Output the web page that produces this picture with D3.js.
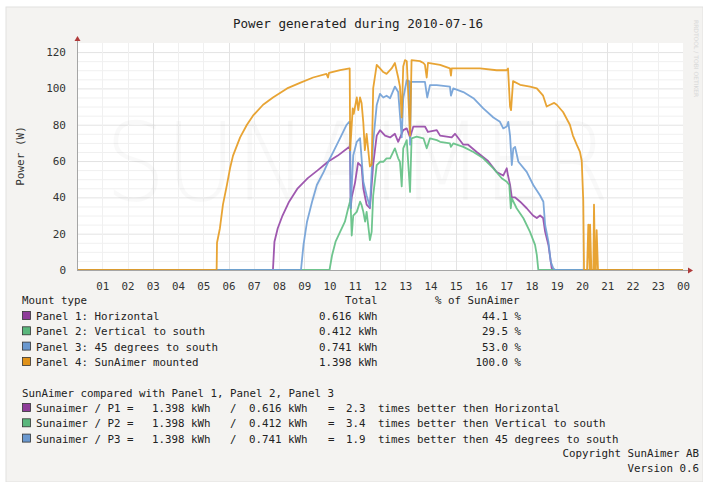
<!DOCTYPE html>
<html>
<head>
<meta charset="utf-8">
<script src="https://cdn.jsdelivr.net/npm/d3@7"></script>
<style>
  html, body { margin: 0; padding: 0; background: #ffffff; }
  svg { display: block; }
</style>
</head>
<body>
<div id="chart"></div>
<script>
"use strict";

const title = "Power generated during 2010-07-16";
const hourLabels = ["01","02","03","04","05","06","07","08","09","10","11","12",
                    "13","14","15","16","17","18","19","20","21","22","23","00"];
const yTicks = [0, 20, 40, 60, 80, 100, 120];

const panelNames = ["Panel 1: Horizontal", "Panel 2: Vertical to south",
                    "Panel 3: 45 degrees to south", "Panel 4: SunAimer mounted"];
const panelShort = ["Horizontal", "Vertical to south", "45 degrees to south"];
const panelTotals = ["0.616 kWh", "0.412 kWh", "0.741 kWh", "1.398 kWh"];
const panelPercent = ["44.1 %", "29.5 %", "53.0 %", "100.0 %"];
const ratios = ["2.3", "3.4", "1.9"];
const lineColors = ["#9546a6", "#5fbf82", "#6f9fd6", "#e69a1e"];
const boxColors = ["#8e3c99", "#5ab77c", "#6a98cf", "#e0921a"];

// [hour, watts]
const panel1 = [[0,0],[7.76,0],[7.82,15.6],[7.95,23],[8.14,30],[8.4,37.6],[8.74,45],[9.14,50.6],[9.54,55],[9.94,59.6],[10.33,63],[10.8,68],[10.81,70],[10.84,34],[10.88,40],[11.01,48],[11.13,59],[11.27,57],[11.34,45],[11.47,36],[11.6,34],[11.73,58],[11.87,74],[12.0,77],[12.2,74],[12.4,73],[12.59,75],[12.72,70.6],[12.92,77],[13.06,78],[13.19,73],[13.32,79],[13.58,79],[13.78,79],[13.9,76],[14.25,77],[14.38,74],[14.84,73],[14.97,75],[15.3,69],[15.49,69],[15.83,65],[16.28,60],[16.62,54],[16.88,52],[17.02,56],[17.07,52],[17.15,47],[17.22,40],[17.35,40],[17.55,37.6],[17.81,34],[18.06,30],[18.21,28.6],[18.34,30],[18.46,28.6],[18.54,21],[18.67,13.8],[18.8,1],[18.85,0],[24,0]];

const panel2 = [[0,0],[10.0,0],[10.1,8],[10.24,15.6],[10.42,21],[10.61,26.6],[10.74,34],[10.81,37.6],[10.83,39.4],[10.88,19],[10.94,30],[11.08,32],[11.21,37.6],[11.27,35.8],[11.34,32],[11.41,26.6],[11.47,32],[11.6,16.5],[11.67,21],[11.73,41],[11.87,57.8],[12.0,59.6],[12.13,59.6],[12.26,61.5],[12.4,61.5],[12.59,67],[12.72,61.5],[12.79,59.6],[12.86,46],[12.92,67],[13.06,71.5],[13.19,43],[13.25,72.5],[13.45,73.4],[13.72,72.5],[13.85,67],[13.98,72.5],[14.25,71.5],[14.38,70.6],[14.77,69.7],[14.81,67.8],[14.9,69.7],[15.3,67.8],[15.7,65],[16.09,61.5],[16.49,56],[16.82,50.5],[17.02,48.6],[17.12,46.8],[17.18,34],[17.22,39.5],[17.41,34],[17.68,28.5],[17.94,21],[18.14,13.8],[18.21,8.3],[18.27,0],[24,0]];

const panel3 = [[0,0],[8.87,0],[8.97,13.8],[9.11,26.6],[9.31,37.6],[9.5,46.8],[9.77,54],[9.95,59.6],[10.15,65],[10.42,72.6],[10.68,80],[10.78,81.6],[10.81,81.6],[10.84,34],[10.94,63],[11.08,70.6],[11.21,72.6],[11.27,61.6],[11.34,48.6],[11.47,41],[11.6,34.8],[11.73,70.6],[11.87,90.8],[12.0,97],[12.13,95],[12.26,96],[12.4,94.6],[12.59,101],[12.72,98],[12.86,73],[12.92,94.6],[13.06,104.6],[13.15,104],[13.19,69],[13.23,103.6],[13.58,103.6],[13.78,103.6],[13.87,95],[13.98,101.8],[14.25,101.8],[14.77,101],[14.81,96],[14.9,100],[15.3,98],[15.7,94.6],[16.09,89],[16.49,84],[16.75,81.6],[16.88,78],[17.02,79],[17.08,81.6],[17.15,74],[17.22,57.8],[17.28,67],[17.35,67.8],[17.48,59.6],[17.81,54],[18.07,46.8],[18.34,41],[18.47,37.6],[18.54,24.8],[18.67,15.6],[18.76,4.6],[18.86,1],[18.93,0],[24,0]];

const panel4 = [[0,0],[5.53,0],[5.545,15],[5.66,23],[5.78,36],[5.94,47],[6.06,56],[6.18,63],[6.46,73],[6.73,80],[6.97,85],[7.37,91],[7.76,95],[8.32,100],[8.83,103],[9.35,106],[9.88,108],[9.94,106],[9.98,108.5],[10.42,110],[10.8,111],[10.82,66],[10.92,89],[10.96,86],[11.08,95],[11.14,88],[11.21,95],[11.27,92],[11.34,81],[11.4,66],[11.47,75],[11.6,57],[11.67,58],[11.73,100],[11.87,113],[12.0,111],[12.13,109],[12.26,108],[12.46,111],[12.59,114],[12.72,106],[12.79,101],[12.86,84],[12.92,112],[12.99,115.6],[13.06,115],[13.19,74],[13.25,115.6],[13.58,115],[13.72,114],[13.78,113],[13.85,106],[13.9,114],[14.38,113],[14.77,111],[14.81,107],[14.84,111],[15.3,111],[15.96,111],[16.62,110],[17.02,110],[17.07,111],[17.15,90],[17.19,88],[17.27,104],[17.55,102],[17.94,101],[18.21,100],[18.46,96],[18.6,90],[18.74,91],[18.9,92],[19.0,91],[19.25,87],[19.52,80],[19.64,74],[19.79,69],[19.92,65],[19.99,60],[20.05,38],[20.08,0],[20.2,0],[20.25,25],[20.3,0],[20.32,25],[20.37,0],[20.45,0],[20.475,36],[20.52,0],[20.55,0],[20.58,22],[20.634,0],[24,0]];

const series = [panel1, panel2, panel3, panel4];

const mono = "'DejaVu Sans Mono', monospace";
const width = 703, height = 482;
const margin = {top: 43, right: 20, bottom: 212, left: 77};

const svg = d3.select("#chart").append("svg")
    .attr("width", width)
    .attr("height", height);

// canvas
svg.append("rect").attr("x", 6).attr("y", 7).attr("width", width - 6).attr("height", height - 7)
    .attr("fill", "#f4f3f1").attr("stroke", "#e2e1df");

const x = d3.scaleLinear([0, 24], [margin.left, 683]);
const y = d3.scaleLinear([0, 125], [270, margin.top]);

svg.append("rect")
    .attr("x", x(0)).attr("y", y(125))
    .attr("width", x(24) - x(0)).attr("height", y(0) - y(125))
    .attr("fill", "#ffffff");

// grid
const grid = svg.append("g");
grid.selectAll(".hmin").data(d3.range(5, 125, 5)).join("line")
    .attr("x1", x(0)).attr("x2", x(24))
    .attr("y1", d => y(d) + 0.5).attr("y2", d => y(d) + 0.5)
    .attr("stroke", d => d % 20 === 0 ? "#e3e3e3" : "#f0f0f0");
grid.selectAll(".vmin").data(d3.range(1, 24)).join("line")
    .attr("y1", y(0)).attr("y2", y(125))
    .attr("x1", d => Math.round(x(d)) + 0.5).attr("x2", d => Math.round(x(d)) + 0.5)
    .attr("stroke", d => d % 3 === 0 ? "#e3e3e3" : "#f0f0f0");

// watermark
svg.append("text")
    .attr("x", 105).attr("y", 200)
    .attr("textLength", 505).attr("lengthAdjust", "spacingAndGlyphs")
    .style("font-family", "'DejaVu Sans', sans-serif")
    .style("font-weight", "200")
    .style("font-size", "108px")
    .attr("fill", "#000").attr("fill-opacity", 0.025)
    .text("SUNAIMER");

// series
const line = d3.line().x(d => x(d[0])).y(d => y(d[1]));
svg.append("g").selectAll("path").data(series).join("path")
    .attr("d", line)
    .attr("fill", "none")
    .attr("stroke", (d, i) => lineColors[i])
    .attr("stroke-width", 1.8)
    .attr("stroke-opacity", 0.9)
    .attr("stroke-linejoin", "round");

// axes
const axisColor = "#a5a5a5";
svg.append("line").attr("x1", x(0)).attr("x2", 688).attr("y1", y(0) + 0.5).attr("y2", y(0) + 0.5)
    .attr("stroke", axisColor);
svg.append("line").attr("x1", x(0) + 0.5).attr("x2", x(0) + 0.5).attr("y1", y(0)).attr("y2", 41)
    .attr("stroke", axisColor);
svg.append("path").attr("d", `M688,${y(0) - 2.5}L693,${y(0) + 0.5}L688,${y(0) + 3.5}Z`).attr("fill", "#b03a3a");
svg.append("path").attr("d", `M${x(0) - 2.5},41L${x(0) + 0.5},36L${x(0) + 3.5},41Z`).attr("fill", "#b03a3a");

const xAxis = d3.axisBottom(x).tickValues(d3.range(1, 25)).tickSize(0)
    .tickFormat((d, i) => hourLabels[i]);
svg.append("g").attr("transform", `translate(0,${y(0) + 9})`).call(xAxis)
    .call(g => g.select(".domain").remove())
    .call(g => g.selectAll("text").style("font-family", mono).style("font-size", "10.8px").attr("fill", "#333"));

const yAxis = d3.axisLeft(y).tickValues(yTicks).tickSize(0);
svg.append("g").attr("transform", `translate(${x(0) - 8},0)`).call(yAxis)
    .call(g => g.select(".domain").remove())
    .call(g => g.selectAll("text").style("font-family", mono).style("font-size", "11px").attr("fill", "#333"));

// titles
svg.append("text").attr("x", 358).attr("y", 28).attr("text-anchor", "middle")
    .style("font-family", mono).style("font-size", "12.6px").attr("fill", "#222").text(title);
svg.append("text").attr("transform", "translate(24,156) rotate(-90)").attr("text-anchor", "middle")
    .style("font-family", mono).style("font-size", "11px").attr("fill", "#333").text("Power (W)");

svg.append("text").attr("transform", "translate(694,20) rotate(90)")
    .style("font-family", "'DejaVu Sans', sans-serif").style("font-size", "6px")
    .attr("fill", "#d8d8d8").text("RRDTOOL / TOBI OETIKER");

// legend
const leg = svg.append("g").style("font-family", mono).style("font-size", "10.8px").attr("fill", "#222");
const rowH = 15.3;
leg.append("text").attr("x", 22).attr("y", 304).text("Mount type");
leg.append("text").attr("x", 345).attr("y", 304).text("Total");
leg.append("text").attr("x", 435).attr("y", 304).text("% of SunAimer");

panelNames.forEach((name, i) => {
    const yy = 320 + i * rowH;
    leg.append("rect").attr("x", 22.5).attr("y", yy - 8.5).attr("width", 8).attr("height", 8)
        .attr("fill", boxColors[i]).attr("stroke", "#333").attr("stroke-width", 0.8);
    leg.append("text").attr("x", 36).attr("y", yy).text(name);
    leg.append("text").attr("x", 319).attr("y", yy).text(panelTotals[i]);
    leg.append("text").attr("x", 521).attr("y", yy).attr("text-anchor", "end").text(panelPercent[i]);
});

leg.append("text").attr("x", 22).attr("y", 397).text("SunAimer compared with Panel 1, Panel 2, Panel 3");
ratios.forEach((r, i) => {
    const yy = 412 + i * rowH;
    leg.append("rect").attr("x", 22.5).attr("y", yy - 8.5).attr("width", 8).attr("height", 8)
        .attr("fill", boxColors[i]).attr("stroke", "#333").attr("stroke-width", 0.8);
    leg.append("text").attr("x", 36).attr("y", yy).text(`Sunaimer / P${i + 1} =`);
    leg.append("text").attr("x", 152).attr("y", yy).text(panelTotals[3]);
    leg.append("text").attr("x", 230).attr("y", yy).text("/");
    leg.append("text").attr("x", 249).attr("y", yy).text(panelTotals[i]);
    leg.append("text").attr("x", 328).attr("y", yy).text("=");
    leg.append("text").attr("x", 346).attr("y", yy).text(r);
    leg.append("text").attr("x", 378).attr("y", yy).text(`times better then ${panelShort[i]}`);
});

leg.append("text").attr("x", 699).attr("y", 457).attr("text-anchor", "end").text("Copyright SunAimer AB");
leg.append("text").attr("x", 699).attr("y", 472).attr("text-anchor", "end").text("Version 0.6");
</script>
</body>
</html>
